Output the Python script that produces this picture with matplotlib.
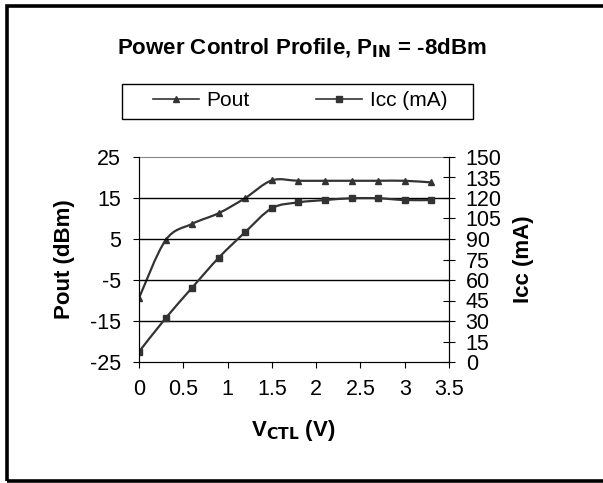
import numpy as np
import matplotlib
matplotlib.use('Agg')
import matplotlib.pyplot as plt
from matplotlib.path import Path
from matplotlib.patches import PathPatch, Rectangle
from matplotlib.lines import Line2D
from matplotlib.ticker import FuncFormatter

plt.rcParams['font.family'] = ['Liberation Sans', 'DejaVu Sans']
plt.rcParams['axes.unicode_minus'] = False

# data
vctl = [0, 0.3, 0.6, 0.9, 1.2, 1.5, 1.8, 2.1, 2.4, 2.7, 3.0, 3.3]
pout = [-9.4, 4.7, 8.7, 11.3, 15.0, 19.3, 19.2, 19.2, 19.2, 19.2, 19.2, 18.8]
icc = [7.5, 32.0, 54.4, 76.3, 95.1, 112.5, 116.8, 118.5, 119.8, 119.8, 118.5, 118.5]

line_col = '#333333'
W, H = 603, 483


def smooth_path(x, y):
    # Excel-style smoothed line: cubic Bezier through every point
    p = np.column_stack([x, y]).astype(float)
    n = len(p)
    verts = [p[0]]
    codes = [Path.MOVETO]
    for i in range(n - 1):
        p0 = p[i - 1] if i > 0 else p[i]
        p3 = p[i + 2] if i + 2 < n else p[i + 1]
        c1 = p[i] + (p[i + 1] - p0) / 6
        c2 = p[i + 1] - (p3 - p[i]) / 6
        verts += [c1, c2, p[i + 1]]
        codes += [Path.CURVE4] * 3
    return Path(verts, codes)


fig = plt.figure(figsize=(W / 100, H / 100), dpi=100)
ax = fig.add_axes([139 / W, 1 - 362 / H, 310 / W, 205 / H])
ax2 = ax.twinx()

ax.add_patch(PathPatch(smooth_path(vctl, pout), fill=False, ec=line_col, lw=1.6))
ax.plot(vctl, pout, ls='none', marker='^', ms=5, color=line_col)
ax2.add_patch(PathPatch(smooth_path(vctl, icc), fill=False, ec=line_col, lw=1.6))
ax2.plot(vctl, icc, ls='none', marker='s', ms=5, color=line_col)

ax.set_xlim(0, 3.5)
ax.set_ylim(-25, 25)
ax2.set_ylim(0, 150)
ax.set_xticks(np.arange(0, 3.51, 0.5))
ax.set_yticks(np.arange(-25, 26, 10))
ax2.set_yticks(np.arange(0, 151, 15))
ax.xaxis.set_major_formatter(FuncFormatter(lambda v, p: ('%g' % v)))

for y in [-15, -5, 5, 15]:
    ax.axhline(y, color='black', lw=1)

ax.spines['top'].set_color('#888888')
ax2.spines['top'].set_visible(False)
ax.spines['left'].set_color('#444444')
for s in ['right', 'bottom']:
    ax2.spines[s].set_color('black')

ax.tick_params(axis='y', direction='out', length=4, labelsize=15.5, pad=9)
ax.tick_params(axis='x', direction='out', length=4.5, labelsize=15.5, pad=8)
ax2.tick_params(axis='y', direction='inout', length=8, labelsize=15.5, pad=8)

ax.set_ylabel('Pout (dBm)', fontsize=16, fontweight='bold')
ax.yaxis.set_label_coords((65 - 139) / 310, 0.5)
ax.yaxis.label.set_va('center')
ax.yaxis.label.set_ha('center')
ax2.set_ylabel('Icc (mA)', fontsize=16, fontweight='bold')
ax2.yaxis.set_label_coords((523 - 139) / 310, 0.5)
ax2.yaxis.label.set_va('center')
ax2.yaxis.label.set_ha('center')
ax.set_xlabel(r'V$_{\mathbf{CTL}}$ (V)', fontsize=16, fontweight='bold')
ax.xaxis.set_label_coords((293 - 139) / 310, (362 - 430) / 205)
ax.xaxis.label.set_va('center')

fig.text(302 / W, 1 - 48 / H, r'Power Control Profile, P$_{\mathbf{IN}}$ = -8dBm',
         ha='center', va='center', fontsize=16, fontweight='bold')

handles = [Line2D([], [], color=line_col, lw=1.2, marker='^', ms=4),
           Line2D([], [], color=line_col, lw=1.2, marker='s', ms=4)]
leg = fig.legend(handles, ['Pout', 'Icc (mA)'], ncol=2, loc='center',
                 bbox_to_anchor=(153 / W, 1 - 111 / H, 294 / W, 20 / H),
                 mode='expand', fontsize=15, frameon=False,
                 handlelength=2.2, handletextpad=0.35,
                 borderpad=0, borderaxespad=0)
fig.patches.append(Rectangle((122, H - 119), 351, 35, transform=None,
                             fill=False, ec='black', lw=1))

fig.patches.append(Rectangle((6.5, 2.0), 620, 475.5, transform=None, fill=False,
                             ec='black', lw=2.6))

fig.savefig('out.png', dpi=100)
